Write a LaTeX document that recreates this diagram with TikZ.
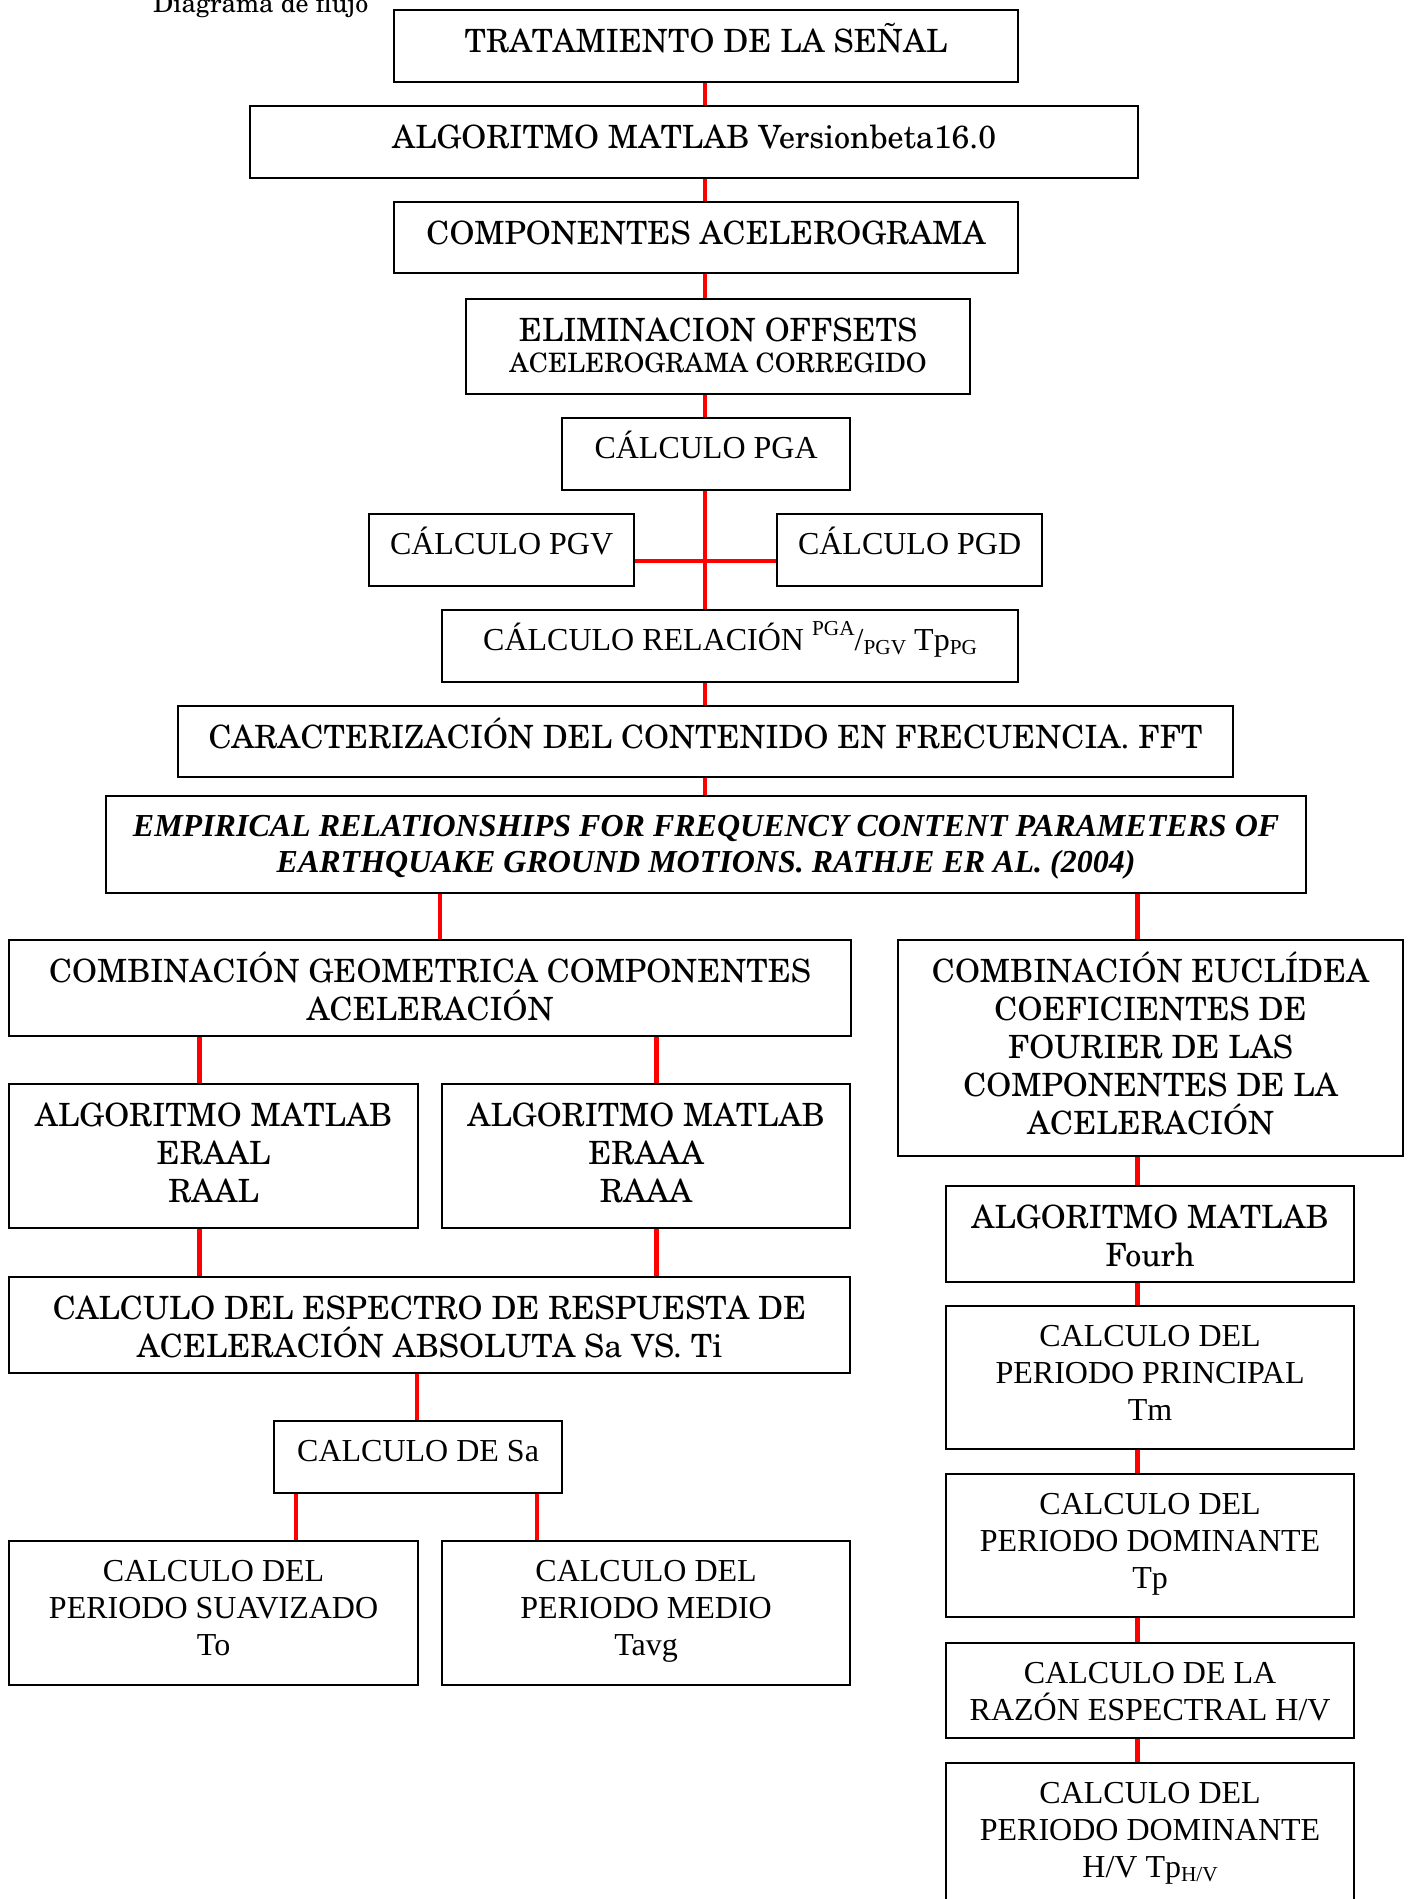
\documentclass[tikz,border=0pt]{standalone}
\usepackage[T1]{fontenc}
\usepackage{fontspec}
\setmainfont{Liberation Serif}
\newfontfamily\tnr{Liberation Serif}
% Century Schoolbook (URW, psnfss) for the wide boxes
\newcommand\cschool{\fontencoding{T1}\fontfamily{pnc}\selectfont}
% raised / lowered small indices
\newcommand\upidx[1]{\raisebox{15pt}{\fontsize{21.3}{24}\selectfont #1}}
\newcommand\dnidx[1]{\raisebox{-4pt}{\fontsize{21.3}{24}\selectfont #1}}
\pgfdeclarelayer{bg}
\pgfsetlayers{bg,main}
\begin{document}
% text height = distance from the box top to the LAST baseline of the node text
\begin{tikzpicture}[x=1pt, y=-1pt,
  frame/.style={draw=black, line width=2.2pt, fill=white, inner xsep=0pt, inner ysep=0pt,
                anchor=north west, align=center},
  cs/.style={frame, font=\cschool\fontsize{32}{38}\selectfont},
  tr/.style={frame, font=\tnr\fontsize{32}{36.7}\selectfont},
  link/.style={draw=red, line width=4.5pt}
]
\useasboundingbox (0,0) rectangle (1408,1899);
\clip (0,0) rectangle (1408,1899);

\node[font=\cschool\fontsize{26}{30}\selectfont, anchor=base west, inner sep=0pt] (title) at (153,12.5) {Diagrama de flujo};

% main column
\node[cs, minimum width=624pt, text height=42.5pt, text depth=29.5pt] (trat) at (393,9) {TRATAMIENTO DE LA SEÑAL};
\node[cs, minimum width=888pt, text height=42.5pt, text depth=29.5pt] (alg) at (249,105) {ALGORITMO MATLAB Versionbeta16.0};
\node[cs, minimum width=624pt, text height=42.5pt, text depth=28.5pt] (comp) at (393,201) {COMPONENTES ACELEROGRAMA};
\node[frame, font=\cschool\fontsize{32}{31.7}\selectfont,
      minimum width=504pt, text height=74.2pt, text depth=21.3pt] (elim) at (465,297.5)
  {ELIMINACION OFFSETS\\{\fontsize{26.7}{31.7}\selectfont ACELEROGRAMA CORREGIDO}};
\node[tr, minimum width=288pt, text height=40.5pt, text depth=31.5pt] (pga) at (561,417) {CÁLCULO PGA};
\node[tr, minimum width=265pt, text height=40.5pt, text depth=31.5pt] (pgv) at (368,513) {CÁLCULO PGV};
\node[tr, minimum width=265pt, text height=40.5pt, text depth=31.5pt] (pgd) at (776,513) {CÁLCULO PGD};
\node[tr, minimum width=576pt, text height=40.5pt, text depth=31.5pt] (rel) at (441,609)
  {CÁLCULO RELACIÓN \upidx{PGA}/\dnidx{PGV} Tp\dnidx{PG}};
\node[cs, minimum width=1055pt, text height=42.5pt, text depth=28.5pt] (car) at (177,705)
  {CARACTERIZACIÓN DEL CONTENIDO EN FRECUENCIA. FFT};
\node[frame, font=\tnr\fontsize{32}{36.7}\selectfont\bfseries\itshape,
      minimum width=1200pt, text height=76.7pt, text depth=20.3pt] (emp) at (105,795)
  {EMPIRICAL RELATIONSHIPS FOR FREQUENCY CONTENT PARAMETERS OF\\
   EARTHQUAKE GROUND MOTIONS. RATHJE ER AL. (2004)};

% left branch
\node[cs, minimum width=842pt, text height=80.5pt, text depth=15.5pt] (geo) at (8,939)
  {COMBINACIÓN GEOMETRICA COMPONENTES\\ACELERACIÓN};
\node[cs, minimum width=409pt, text height=118.5pt, text depth=25.5pt] (eraal) at (8,1083)
  {ALGORITMO MATLAB\\ERAAL\\RAAL};
\node[cs, minimum width=408pt, text height=118.5pt, text depth=25.5pt] (eraaa) at (441,1083)
  {ALGORITMO MATLAB\\ERAAA\\RAAA};
\node[cs, minimum width=841pt, text height=80.5pt, text depth=15.5pt] (esp) at (8,1276)
  {CALCULO DEL ESPECTRO DE RESPUESTA DE\\ACELERACIÓN ABSOLUTA Sa VS. Ti};
\node[tr, minimum width=288pt, text height=40.5pt, text depth=31.5pt] (sa) at (273,1420) {CALCULO DE Sa};
\node[tr, minimum width=409pt, text height=113.9pt, text depth=30.1pt] (suav) at (8,1540)
  {CALCULO DEL\\PERIODO SUAVIZADO\\To};
\node[tr, minimum width=408pt, text height=113.9pt, text depth=30.1pt] (medio) at (441,1540)
  {CALCULO DEL\\PERIODO MEDIO\\Tavg};

% right branch
\node[cs, minimum width=505pt, text height=194.5pt, text depth=21.5pt] (euc) at (897,939)
  {COMBINACIÓN EUCLÍDEA\\COEFICIENTES DE\\FOURIER DE LAS\\COMPONENTES DE LA\\ACELERACIÓN};
\node[cs, minimum width=408pt, text height=80.5pt, text depth=15.5pt] (fourh) at (945,1185)
  {ALGORITMO MATLAB\\Fourh};
\node[tr, minimum width=408pt, text height=113.9pt, text depth=29.1pt] (prin) at (945,1305)
  {CALCULO DEL\\PERIODO PRINCIPAL\\Tm};
\node[tr, minimum width=408pt, text height=113.9pt, text depth=29.1pt] (domtp) at (945,1473)
  {CALCULO DEL\\PERIODO DOMINANTE\\Tp};
\node[tr, minimum width=408pt, text height=77.2pt, text depth=17.8pt] (raz) at (945,1642)
  {CALCULO DE LA\\RAZÓN ESPECTRAL H/V};
\node[tr, minimum width=408pt, text height=113.9pt, text depth=29.1pt] (hv) at (945,1762)
  {CALCULO DEL\\PERIODO DOMINANTE\\H/V Tp\dnidx{H/V}};

% connector positions
\coordinate (spine) at (705,0);
\coordinate (bar) at (705,561);
\coordinate (xgeo) at (440,0);
\coordinate (xeuc) at (1137.7,0);
\coordinate (xa) at (199.7,0);
\coordinate (xb) at (656.7,0);
\coordinate (xsa) at (417,0);
\coordinate (xto) at (296,0);
\coordinate (xtavg) at (537,0);
\coordinate (xr) at (1137.5,0);

\begin{pgfonlayer}{bg}
\draw[link] (trat.south -| spine) -- (alg.north -| spine);
\draw[link] (alg.south -| spine) -- (comp.north -| spine);
\draw[link] (comp.south -| spine) -- (elim.north -| spine);
\draw[link] (elim.south -| spine) -- (pga.north -| spine);
\draw[link] (pga.south -| spine) -- (rel.north -| spine);
\draw[link] (pgv.east |- bar) -- (pgd.west |- bar);
\draw[link] (rel.south -| spine) -- (car.north -| spine);
\draw[link] (car.south -| spine) -- (emp.north -| spine);
\draw[link] (emp.south -| xgeo) -- (geo.north -| xgeo);
\draw[link] (emp.south -| xeuc) -- (euc.north -| xeuc);
\draw[link] (geo.south -| xa) -- (eraal.north -| xa);
\draw[link] (geo.south -| xb) -- (eraaa.north -| xb);
\draw[link] (eraal.south -| xa) -- (esp.north -| xa);
\draw[link] (eraaa.south -| xb) -- (esp.north -| xb);
\draw[link] (esp.south -| xsa) -- (sa.north -| xsa);
\draw[link] (sa.south -| xto) -- (suav.north -| xto);
\draw[link] (sa.south -| xtavg) -- (medio.north -| xtavg);
\draw[link] (euc.south -| xr) -- (fourh.north -| xr);
\draw[link] (fourh.south -| xr) -- (prin.north -| xr);
\draw[link] (prin.south -| xr) -- (domtp.north -| xr);
\draw[link] (domtp.south -| xr) -- (raz.north -| xr);
\draw[link] (raz.south -| xr) -- (hv.north -| xr);
\end{pgfonlayer}
\end{tikzpicture}
\end{document}
